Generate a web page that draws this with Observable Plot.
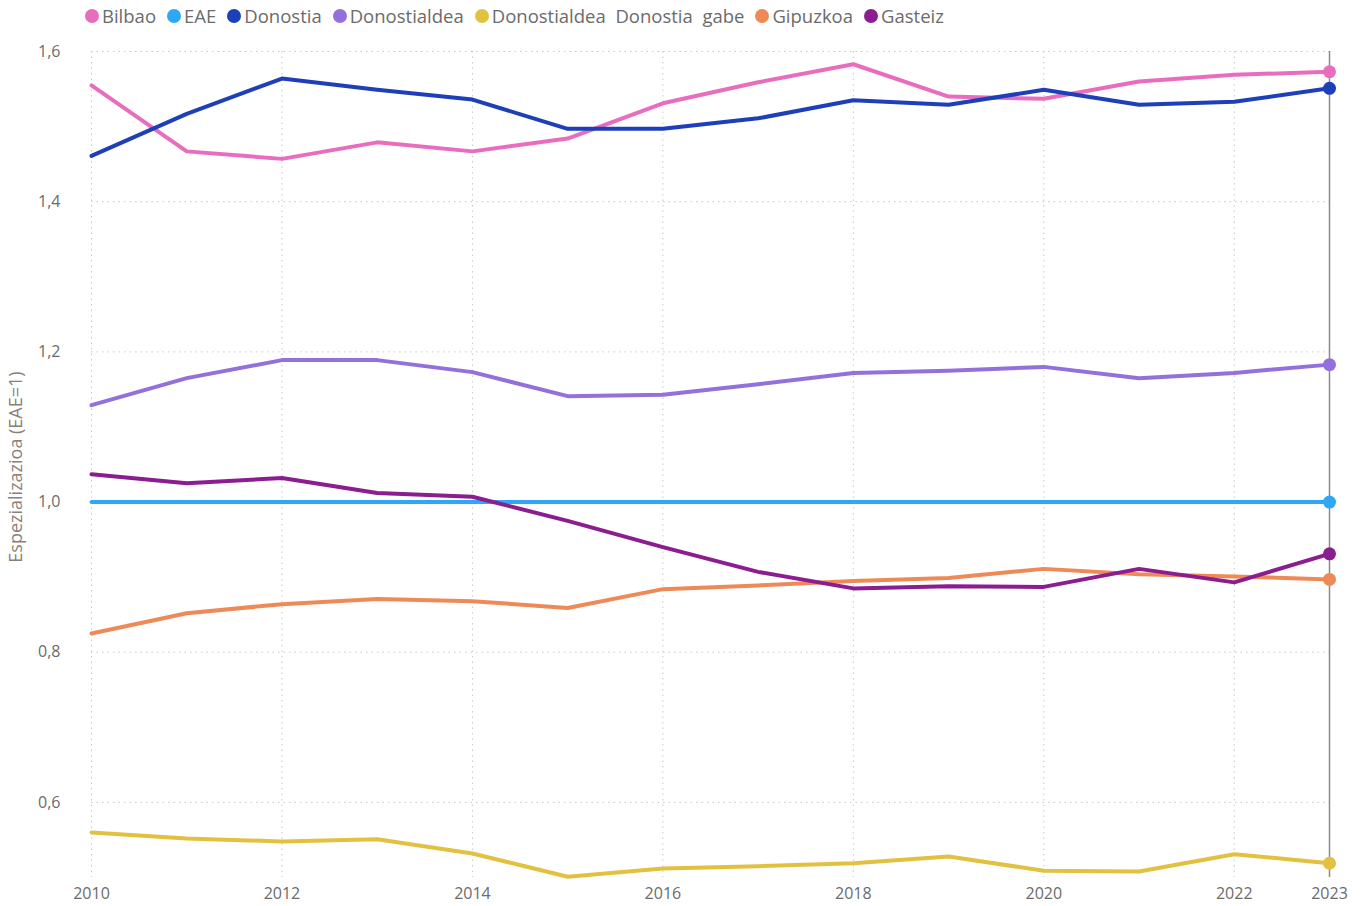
<!DOCTYPE html>
<html><head><meta charset="utf-8">
<script src="https://cdn.jsdelivr.net/npm/d3@7"></script>
<script src="https://cdn.jsdelivr.net/npm/@observablehq/plot@0.6"></script>
<style>
body{margin:0;background:#fff;font-family:"Open Sans",sans-serif;}
#legend{height:34px;box-sizing:border-box;padding-bottom:3px;display:flex;align-items:center;padding-left:85px;font-size:18.5px;color:#6b6b6b;}
.item{display:flex;align-items:center;margin-right:11px;white-space:pre;}
.sw{width:14px;height:14px;border-radius:50%;margin-right:3px;}
#chart svg{display:block;}
</style></head><body>
<div id="legend"></div><div id="chart"></div>
<script>
const years = [2010,2011,2012,2013,2014,2015,2016,2017,2018,2019,2020,2021,2022,2023];
const bilbao = [1.555,1.467,1.457,1.479,1.467,1.484,1.531,1.559,1.583,1.540,1.537,1.560,1.569,1.573];
const eae = [1,1,1,1,1,1,1,1,1,1,1,1,1,1];
const donostia = [1.461,1.517,1.564,1.549,1.536,1.497,1.497,1.511,1.535,1.529,1.549,1.529,1.533,1.551];
const donostialdea = [1.129,1.165,1.189,1.189,1.173,1.141,1.143,1.157,1.172,1.175,1.180,1.165,1.172,1.183];
const donostiaGabe = [0.560,0.552,0.548,0.551,0.532,0.501,0.512,0.515,0.519,0.528,0.509,0.508,0.531,0.519];
const gipuzkoa = [0.825,0.852,0.864,0.871,0.868,0.859,0.884,0.889,0.895,0.899,0.911,0.904,0.901,0.897];
const gasteiz = [1.037,1.025,1.032,1.012,1.007,0.975,0.940,0.907,0.885,0.888,0.887,0.911,0.893,0.931];

const names = ["Bilbao","EAE","Donostia","Donostialdea","Donostialdea  Donostia  gabe","Gipuzkoa","Gasteiz"];
const colors = ["#E96DBE","#2EA8F6","#1D3FB9","#9370DB","#E2C141","#EE8A57","#8B1D91"];
const seriesValues = [bilbao,eae,donostia,donostialdea,donostiaGabe,gipuzkoa,gasteiz];
const yTicks = [0.6,0.8,1.0,1.2,1.4,1.6];
const xTicks = [2010,2012,2014,2016,2018,2020,2022,2023];
const xGrid = [2010,2012,2014,2016,2018,2020,2022];
const yTitle = "Espezializazioa (EAE=1)";

const data = [];
names.forEach((n,i)=>years.forEach((y,j)=>data.push({name:n,year:y,value:seriesValues[i][j]})));
const last = data.filter(d=>d.year===2023);

const legend = document.getElementById("legend");
names.forEach((n,i)=>{
  const it = document.createElement("div"); it.className="item";
  const sw = document.createElement("span"); sw.className="sw"; sw.style.background=colors[i];
  const t = document.createElement("span"); t.textContent=n;
  it.appendChild(sw); it.appendChild(t); legend.appendChild(it);
});

const fmt = d=>d.toFixed(1).replace(".",",");
const chart = Plot.plot({
  width:1364, height:872,
  marginLeft:91, marginRight:35, marginTop:17, marginBottom:29,
  style:{fontFamily:"Open Sans, sans-serif", fontSize:"16px", color:"#6b6b6b", background:"#fff", overflow:"visible"},
  x:{domain:[2010,2023]},
  y:{domain:[0.5,1.6]},
  color:{domain:names, range:colors},
  marks:[
    Plot.gridY(yTicks,{stroke:"#c8c8c8", strokeOpacity:1, strokeDasharray:"1.5,4"}),
    Plot.gridX(xGrid,{stroke:"#c8c8c8", strokeOpacity:1, strokeDasharray:"1.5,4"}),
    Plot.axisX(xTicks,{tickSize:0, tickPadding:10, tickFormat:d=>String(d), label:null}),
    Plot.axisY(yTicks,{tickSize:0, tickPadding:31, tickFormat:fmt, label:null}),
    Plot.ruleX([2023],{stroke:"#8a8a8a", strokeWidth:1.5}),
    Plot.line(data,{x:"year", y:"value", z:"name", stroke:"name", strokeWidth:4, strokeLinejoin:"round", strokeLinecap:"round"}),
    Plot.dot(last,{x:"year", y:"value", fill:"name", r:6.5, stroke:null})
  ]
});
d3.select(chart).append("text")
  .attr("transform","translate(17,433) rotate(-90)")
  .attr("text-anchor","middle").attr("dominant-baseline","middle")
  .attr("fill","#8a7f78").style("font-size","18px")
  .text(yTitle);
document.getElementById("chart").appendChild(chart);
</script>
</body></html>
